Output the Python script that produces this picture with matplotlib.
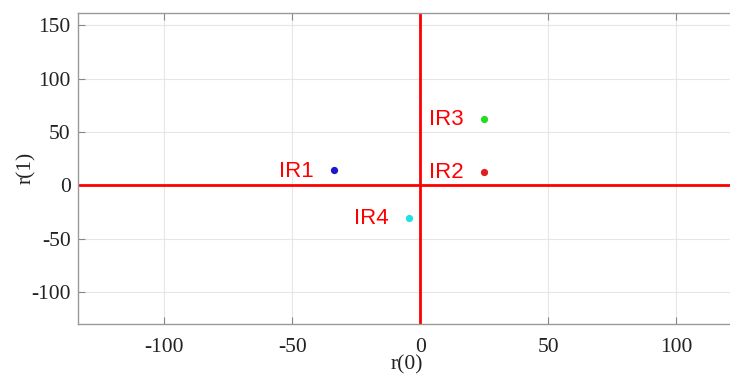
import matplotlib
matplotlib.use("Agg")
import matplotlib.pyplot as plt

plt.rcParams["axes.unicode_minus"] = False

# Points in the r(0)-r(1) plane
labels = ["IR1", "IR2", "IR3", "IR4"]
r0 = [-33.8, 24.7, 24.7, -4.6]
r1 = [13.8, 12.8, 62.2, -30.6]
colors = ["#1a1acc", "#e02020", "#22dd22", "#22e0e0"]

xticks = [-100, -50, 0, 50, 100]
yticks = [-100, -50, 0, 50, 100, 150]

W, H = 730, 376
fig = plt.figure(figsize=(W / 100, H / 100), dpi=100)
left, right, top, bottom = 77.7, 731.0, 12.7, 323.7
aw, ah = right - left, bottom - top
ax = fig.add_axes([left / W, 1 - bottom / H, aw / W, ah / H])

ax.set_xlim(-133.8, 121.3)
ax.set_ylim(-129.8, 161.7)

ax.axhline(0, color="#ff0000", lw=2.0, zorder=2)
ax.axvline(0, color="#ff0000", lw=2.0, zorder=2)

for x, y, c, name in zip(r0, r1, colors, labels):
    ax.plot(x, y, "o", color=c, markersize=4.2, zorder=3)
    ax.text(x - 7.8, y - 1.0, name, color="#ff0000", fontsize=16,
            family="Liberation Sans", ha="right", va="center", zorder=3)

ax.set_xticks(xticks)
ax.set_yticks(yticks)
ax.grid(True, color="#e6e6e6", lw=0.8)
ax.set_axisbelow(True)

serif = "Liberation Serif"
ax.tick_params(direction="in", length=5, width=0.8, color="#888888",
               top=True, right=False, labelsize=15.5)
ax.tick_params(axis="x", pad=10)
ax.tick_params(axis="y", pad=5)
for lab in ax.get_xticklabels() + ax.get_yticklabels():
    lab.set_family(serif)
    lab.set_color("#222222")
for side, sp in ax.spines.items():
    sp.set_color("#999999")
    sp.set_linewidth(1.0)
ax.spines["right"].set_visible(False)

ax.set_xlabel("r(0)", fontsize=15.5, family=serif, color="#222222", va="center")
ax.set_ylabel("r(1)", fontsize=15.5, family=serif, color="#222222", va="center")
ax.xaxis.set_label_coords((407 - left) / aw, -(364.5 - bottom) / ah)
ax.yaxis.set_label_coords(-(left - 26) / aw, 0.5)

fig.savefig("out.png", dpi=100)
